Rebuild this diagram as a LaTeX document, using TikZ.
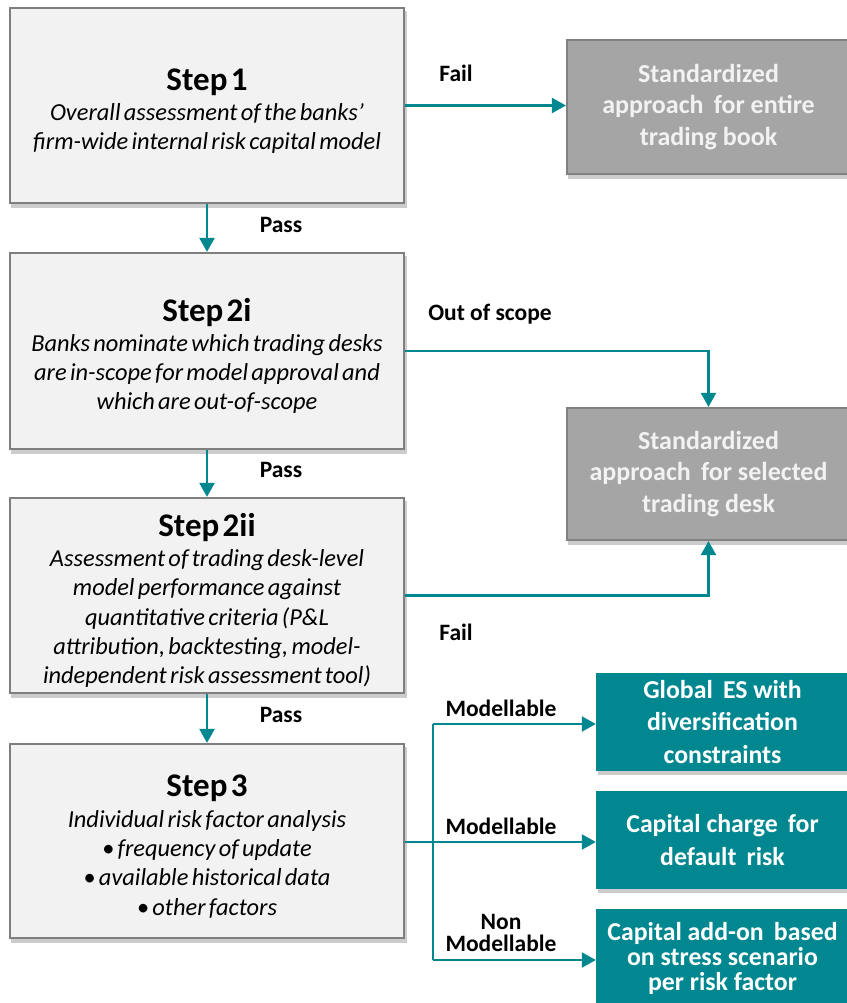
\documentclass[tikz,border=0pt]{standalone}
\usepackage{fontspec}
\setmainfont{Carlito}
\usetikzlibrary{arrows.meta,backgrounds,calc}
\definecolor{tealc}{HTML}{00878F}
\definecolor{lightbox}{HTML}{F2F2F2}
\definecolor{boxline}{HTML}{7F7F7F}
\definecolor{darkbox}{HTML}{A5A5A5}
\definecolor{darkline}{HTML}{808080}
\definecolor{offwhite}{HTML}{F2F2F2}
\tikzset{
  stepbox/.style={draw=boxline, line width=2.2pt, fill=lightbox, minimum width=394pt, text width=390pt, align=center, inner sep=0pt},
  graybox/.style={draw=darkline, line width=2.2pt, fill=darkbox, minimum width=283pt, align=center, inner sep=0pt,
    text=offwhite, font=\fontsize{26}{31.5}\selectfont\bfseries},
  tealbox/.style={draw=none, fill=tealc, minimum width=253pt, minimum height=98pt, align=center, inner sep=0pt,
    text=white, font=\fontsize{25.8}{32.5}\selectfont\bfseries},
  shadowfill/.style={fill=black, opacity=0.2},
  conn/.style={draw=tealc, line width=2.2pt, -{Triangle[length=14pt,width=15pt]}},
  plainconn/.style={draw=tealc, line width=2.2pt},
  lbl/.style={font=\fontsize{23.5}{24}\selectfont\bfseries, align=center, inner sep=0pt},
}
\newcommand{\mysteptitle}[1]{{\fontsize{33}{31}\selectfont\bfseries\rule{0pt}{33pt}#1\par}\vspace{1pt}}
\newcommand{\mystepbody}[1]{{\fontsize{24.4}{29.3}\selectfont\itshape #1\par}}
\begin{document}
\begin{tikzpicture}[x=1pt,y=-1pt]
\useasboundingbox (0,0) rectangle (846,1003);
% steps
\node[stepbox, minimum height=195pt] (s1) at (207,105.5)
  {\mysteptitle{Step 1}\mystepbody{Overall assessment of the banks’\\ firm-wide internal risk capital model}};
\node[stepbox, minimum height=196pt] (s2i) at (207,351)
  {\mysteptitle{Step 2i}\mystepbody{Banks nominate which trading desks\\ are in-scope for model approval and\\ which are out-of-scope}};
\node[stepbox, minimum height=195pt] (s2ii) at (207,595.5)
  {\mysteptitle{Step 2ii}\mystepbody{Assessment of trading desk-level\\ model performance against\\ quantitative criteria (P\&L\\ attribution, backtesting, model-\\ independent risk assessment tool)}};
\node[stepbox, minimum height=194pt] (s3) at (207,841)
  {\mysteptitle{Step 3}\mystepbody{Individual risk factor analysis\\ • frequency of update\\ • available historical data\\ • other factors}};
% outcome boxes
\node[graybox, minimum height=134pt] (g1) at (708.5,107)
  {Standardized\\ approach\, for entire\\ trading book};
\node[graybox, minimum height=132pt] (g2) at (708.5,474)
  {Standardized\\ approach\, for selected\\ trading desk};
\node[tealbox] (t1) at (722.5,722) {Global\, ES with\\ diversification\\ constraints};
\node[tealbox] (t2) at (722.5,840) {Capital charge\, for\\ default\, risk};
\node[tealbox, font=\fontsize{25.8}{25}\selectfont\bfseries] (t3) at (722.5,958) {Capital add-on\, based\\ on stress scenario\\ per risk factor};
% shadows
\begin{pgfonlayer}{background}
\fill[white] (0,0) rectangle (846,1003);
\foreach \n in {s1,s2i,s2ii,s3,g1,g2,t1,t2,t3}{
  \fill[shadowfill] ($(\n.south west)+(2,4)$) rectangle ($(\n.north east)+(2,4)$);
}
\end{pgfonlayer}
% connectors
\draw[conn] (s1.east) -- (s1.east -| g1.west);
\draw[conn] (s1.south) -- (s2i.north);
\draw[conn] (s2i.south) -- (s2ii.north);
\draw[conn] (s2ii.south) -- (s3.north);
\draw[conn] (s2i.east) -| (g2.north);
\draw[conn] (s2ii.east) -| (g2.south);
\coordinate (br) at (433,842);
\coordinate (brtop) at (433,724);
\coordinate (brbot) at (433,960);
\draw[plainconn] (s3.east |- br) -- (br);
\draw[plainconn] (brtop) -- (brbot);
\draw[conn] (brtop) -- (t1.west |- brtop);
\draw[conn] (br) -- (t2.west |- br);
\draw[conn] (brbot) -- (t3.west |- brbot);
% labels
\node[lbl] (lfail1) at (456,73) {Fail};
\node[lbl] (lpass1) at (281,225) {Pass};
\node[lbl] (lscope) at (490,314) {Out of scope};
\node[lbl] (lpass2) at (281,470) {Pass};
\node[lbl] (lfail2) at (456,632) {Fail};
\node[lbl] (lpass3) at (281,715) {Pass};
\node[lbl] (lmod1) at (501,708) {Modellable};
\node[lbl] (lmod2) at (501,826) {Modellable};
\node[lbl, font=\fontsize{23.5}{21.5}\selectfont\bfseries] (lmod3) at (501,933) {Non\\ Modellable};
\end{tikzpicture}
\end{document}
